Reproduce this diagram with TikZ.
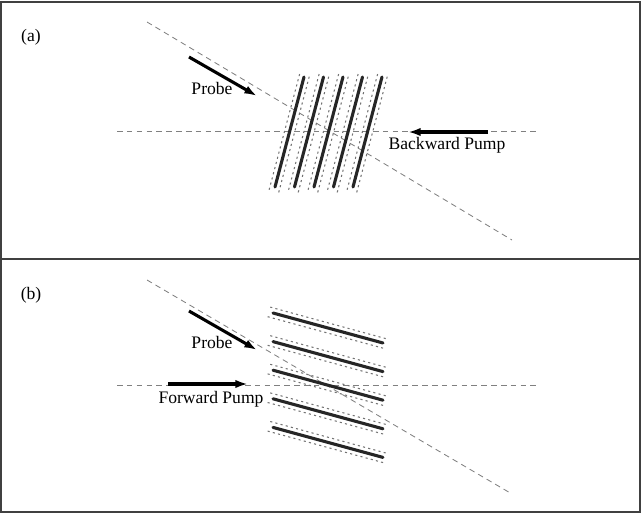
\documentclass[tikz,border=0pt]{standalone}
\usepackage{fontspec}
\setmainfont{Liberation Serif}
\usetikzlibrary{positioning, arrows.meta}

\begin{document}
\begin{tikzpicture}[
    x=0.025cm, y=-0.025cm,
    frame/.style={draw=black!75, line width=1.1pt},
    lbl/.style={font=\fontsize{12.5}{15}\selectfont, inner sep=1pt},
    beam/.style={draw=black!50, line width=0.6pt, dash pattern=on 4pt off 3pt},
    arrow/.style={-{Latex[length=9pt, width=6pt]}, line width=2.2pt},
    fringe/.style={line width=2.2pt, draw=black!85, line cap=round},
    edge/.style={draw=black!55, line width=0.75pt, dash pattern=on 1.5pt off 2.3pt,
                 shorten <=-3pt, shorten >=-3pt}
]
  \useasboundingbox (0,0) rectangle (641,514);

  % panels
  \draw[frame] (1,2) rectangle (640,259);
  \draw[frame] (1,259) rectangle (640,512);
  \node[lbl] (tagA) at (31,37) {(a)};
  \node[lbl] (tagB) at (31,295) {(b)};

  % panel (a): beams
  \coordinate (diagA-s) at (147,22);
  \coordinate (diagA-e) at (512,240);
  \coordinate (horA-s) at (117,131);
  \coordinate (horA-e) at (540,131);
  \draw[beam] (diagA-s) -- (diagA-e);
  \draw[beam] (horA-s) -- (horA-e);

  % panel (a): fringes
  \foreach \i in {0,...,4} {
    \coordinate (fa\i-b) at (275+19.5*\i,187);
    \coordinate (fa\i-t) at (304+19.5*\i,77);
    \draw[edge] ([shift={(-4.8,-1.3)}]fa\i-b) -- ([shift={(-4.8,-1.3)}]fa\i-t);
    \draw[edge] ([shift={(4.8,1.3)}]fa\i-b) -- ([shift={(4.8,1.3)}]fa\i-t);
    \draw[fringe] (fa\i-b) -- (fa\i-t);
  }

  % panel (a): arrows
  \coordinate (probeA-s) at (189,57);
  \coordinate (probeA-e) at (257,96);
  \draw[arrow] (probeA-s) -- (probeA-e);
  \node[lbl] (probeA) at (212,88) {Probe};
  \coordinate (pumpA-s) at (488,132);
  \coordinate (pumpA-e) at (408,132);
  \draw[arrow] (pumpA-s) -- (pumpA-e);
  \node[lbl] (pumpA) at (447,145) {Backward Pump};

  % panel (b): beams
  \coordinate (diagB-s) at (147,280);
  \coordinate (diagB-e) at (512,494);
  \coordinate (horB-s) at (117,385);
  \coordinate (horB-e) at (540,385);
  \draw[beam] (diagB-s) -- (diagB-e);
  \draw[beam] (horB-s) -- (horB-e);

  % panel (b): fringes
  \foreach \i in {0,...,4} {
    \coordinate (fb\i-l) at (273,313+28.6*\i);
    \coordinate (fb\i-r) at (383,343+28.6*\i);
    \draw[edge] ([shift={(1.3,-4.8)}]fb\i-l) -- ([shift={(1.3,-4.8)}]fb\i-r);
    \draw[edge] ([shift={(-1.3,4.8)}]fb\i-l) -- ([shift={(-1.3,4.8)}]fb\i-r);
    \draw[fringe] (fb\i-l) -- (fb\i-r);
  }

  % panel (b): arrows
  \coordinate (probeB-s) at (189,311);
  \coordinate (probeB-e) at (257,350);
  \draw[arrow] (probeB-s) -- (probeB-e);
  \node[lbl] (probeB) at (212,342) {Probe};
  \coordinate (pumpB-s) at (168,384);
  \coordinate (pumpB-e) at (248,384);
  \draw[arrow] (pumpB-s) -- (pumpB-e);
  \node[lbl] (pumpB) at (211,399) {Forward Pump};
\end{tikzpicture}
\end{document}
